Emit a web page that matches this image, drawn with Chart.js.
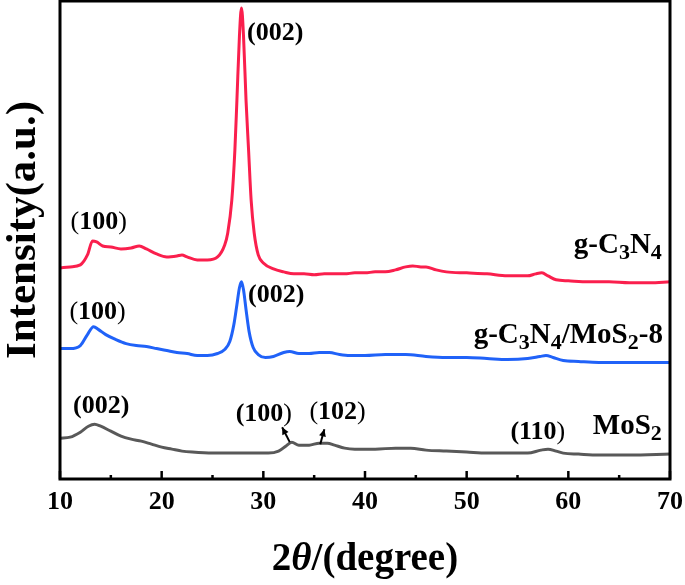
<!DOCTYPE html>
<html>
<head>
<meta charset="utf-8">
<script src="https://cdn.jsdelivr.net/npm/chart.js@4.4.1/dist/chart.umd.min.js"></script>
<style>
  html, body { margin: 0; padding: 0; background: #fff; }
  #wrap { width: 685px; height: 585px; }
</style>
</head>
<body>
<div id="wrap"><canvas id="xrd"></canvas></div>
<script>
// 2-theta positions (degree) and intensities (a.u., stacked offsets included)
const gcnX = [10, 11, 12, 12.7, 13.2, 13.6, 14.2, 15, 16, 17, 17.8, 18.5, 19.5, 20.5, 21.5, 22, 22.5, 23.5, 24.5, 25.5,
  26.2, 26.5, 26.9, 27.2, 27.4, 27.65, 27.85, 28.05, 28.3, 28.55, 28.8, 29.1, 29.5, 30, 31, 32, 33, 34, 35, 36, 37, 38,
  39, 40, 41, 42, 43, 44, 44.7, 45.5, 46, 47, 48, 50, 52, 54, 56, 56.8, 57.4, 58, 58.8, 60, 62, 64, 66, 68, 70];
const gcnY = [212, 213, 215, 225, 239, 238, 234, 233, 231, 232, 234, 231, 226, 223, 224, 225, 223, 220, 220, 223,
  235, 247, 280, 330, 380, 445, 473, 445, 380, 330, 280, 247, 225, 217, 211, 208, 206, 206, 205, 206, 206, 206,
  207, 207, 208, 208, 210, 213, 214, 213, 213, 210, 208, 207, 206, 204, 204, 206, 207, 204, 200, 199, 198, 198, 197, 197, 198];

const compX = [10, 11, 12, 12.7, 13.3, 13.8, 14.5, 15.5, 16.5, 17.5, 18.5, 19.5, 20.5, 21.5, 22.5, 23.5, 24.5, 25.5,
  26.2, 26.7, 27.1, 27.4, 27.65, 27.85, 28.05, 28.3, 28.6, 29, 29.5, 30.2, 31, 32, 32.6, 33.5, 34.5, 35.5, 36.5, 37.5,
  38.5, 40, 42, 44, 46, 48, 50, 52, 54, 56, 57.2, 57.8, 58.5, 59.5, 61, 63, 66, 70];
const compY = [131, 131, 134, 145, 153, 150, 145, 140, 136, 134, 133, 131, 129, 127, 126, 124, 124, 126,
  130, 138, 155, 175, 192, 198, 190, 170, 148, 132, 125, 122, 123, 127, 128, 126, 126, 127, 127, 125,
  124, 124, 125, 125, 123, 122, 122, 121, 120, 121, 123, 124, 122, 119, 118, 117, 117, 117];

const mosX = [10, 11, 12, 12.8, 13.4, 14, 15, 16, 17, 18, 19, 20, 21, 22, 23, 25, 27, 29, 30.5, 31.5, 32.2, 32.8,
  33.5, 34.5, 35.5, 36.3, 37, 38, 39, 41, 43, 44.5, 46, 48, 50, 52, 54, 56, 57.3, 58, 58.8, 59.5, 61, 63, 66, 70];
const mosY = [41, 42, 47, 53, 55, 53, 48, 43, 40, 38, 35, 32, 30, 28, 27, 26, 26, 26, 26, 28, 33, 37,
  34, 34, 36, 36, 34, 31, 30, 30, 31, 31, 29, 28, 27, 26, 26, 26, 29, 30, 28, 26, 25, 24, 24, 25];

const xTicks = [10, 20, 30, 40, 50, 60, 70];
const seriesColors = ['#fa1f4d', '#2062f8', '#595959'];

const toPoints = (xs, ys) => xs.map((x, i) => ({ x: x, y: ys[i] }));

const serif = '"Liberation Serif", "Times New Roman", serif';
const B = n => `bold ${n}px ${serif}`;
const R = n => `${n}px ${serif}`;

// draws a run of text pieces with their own fonts / offsets (subscripts etc.)
function drawRich(ctx, segs, x, y, align) {
    let total = 0;
    segs.forEach(s => { ctx.font = s.f; s.w = ctx.measureText(s.t).width; total += s.w; });
    let cx = align === 'right' ? x - total : align === 'center' ? x - total / 2 : x;
    ctx.textAlign = 'left';
    ctx.textBaseline = 'alphabetic';
    segs.forEach(s => { ctx.font = s.f; ctx.fillText(s.t, cx, y + (s.dy || 0)); cx += s.w; });
}

function hkl(txt, thinLeft, thinRight) {
    return [
        { t: '(', f: thinLeft ? R(26) : B(26) },
        { t: txt, f: B(26) },
        { t: ')', f: thinRight ? R(26) : B(26) }
    ];
}

function arrow(ctx, x1, y1, x2, y2) {
    const a = Math.atan2(y2 - y1, x2 - x1);
    ctx.beginPath();
    ctx.moveTo(x1, y1);
    ctx.lineTo(x2, y2);
    ctx.stroke();
    ctx.beginPath();
    ctx.moveTo(x2, y2);
    ctx.lineTo(x2 - 8 * Math.cos(a - 0.45), y2 - 8 * Math.sin(a - 0.45));
    ctx.lineTo(x2 - 8 * Math.cos(a + 0.45), y2 - 8 * Math.sin(a + 0.45));
    ctx.closePath();
    ctx.fill();
}

const decor = {
    id: 'decor',
    afterDraw(chart) {
        const ctx = chart.ctx;
        const a = chart.chartArea;
        const xs = chart.scales.x;
        const ys = chart.scales.y;
        const px = v => xs.getPixelForValue(v);
        const py = v => ys.getPixelForValue(v);

        ctx.save();
        ctx.strokeStyle = '#000';
        ctx.fillStyle = '#000';

        // frame
        ctx.lineWidth = 3;
        ctx.strokeRect(a.left, a.top, a.right - a.left, a.bottom - a.top);

        // inward ticks on the bottom axis
        ctx.lineWidth = 2.5;
        for (let v = 10; v <= 70; v += 5) {
            const len = v % 10 === 0 ? 8 : 4;
            ctx.beginPath();
            ctx.moveTo(px(v), a.bottom);
            ctx.lineTo(px(v), a.bottom - len);
            ctx.stroke();
        }

        // axis titles
        drawRich(ctx, [
            { t: '2', f: B(39) },
            { t: 'θ', f: 'italic ' + B(39) },
            { t: '/(degree)', f: B(39) }
        ], (a.left + a.right) / 2, 570, 'center');

        ctx.save();
        ctx.translate(35, 230);
        ctx.rotate(-Math.PI / 2);
        ctx.font = B(43);
        ctx.textAlign = 'center';
        ctx.textBaseline = 'alphabetic';
        ctx.fillText('Intensity(a.u.)', 0, 0);
        ctx.restore();

        // peak labels
        drawRich(ctx, hkl('100', true, true), px(13.8), py(251), 'center');
        drawRich(ctx, hkl('002'), px(28.4), py(441), 'left');
        drawRich(ctx, hkl('100', true, true), px(13.7), py(161), 'center');
        drawRich(ctx, hkl('002'), px(28.5), py(178), 'left');
        drawRich(ctx, hkl('002'), px(14.05), py(66), 'center');
        drawRich(ctx, hkl('100', false, true), px(30.05), py(58), 'center');
        drawRich(ctx, hkl('102', true, true), px(37.3), py(60), 'center');
        drawRich(ctx, hkl('110', false, true), px(57.0), py(40), 'center');

        // sample names
        const sub = { f: B(22), dy: 6 };
        drawRich(ctx, [
            { t: 'g-C', f: B(29) }, { t: '3', ...sub }, { t: 'N', f: B(29) }, { t: '4', ...sub }
        ], px(69.2), py(227), 'right');
        drawRich(ctx, [
            { t: 'g-C', f: B(29) }, { t: '3', ...sub }, { t: 'N', f: B(29) }, { t: '4', ...sub },
            { t: '/MoS', f: B(29) }, { t: '2', ...sub }, { t: '-8', f: B(29) }
        ], px(69.3), py(137), 'right');
        drawRich(ctx, [
            { t: 'MoS', f: B(29) }, { t: '2', ...sub }
        ], px(69.2), py(45), 'right');

        // arrows to the weak MoS2 reflections
        ctx.lineWidth = 2;
        arrow(ctx, px(32.6), py(37), px(31.85), py(52));
        arrow(ctx, px(35.6), py(35), px(36.0), py(50));

        ctx.restore();
    }
};

new Chart(document.getElementById('xrd'), {
    type: 'line',
    data: {
        datasets: [
            { label: 'g-C3N4', data: toPoints(gcnX, gcnY) },
            { label: 'g-C3N4/MoS2-8', data: toPoints(compX, compY) },
            { label: 'MoS2', data: toPoints(mosX, mosY) }
        ].map((d, i) => Object.assign(d, {
            borderColor: seriesColors[i],
            borderWidth: 3,
            pointRadius: 0,
            cubicInterpolationMode: 'monotone',
            fill: false
        }))
    },
    options: {
        responsive: true,
        maintainAspectRatio: false,
        animation: false,
        layout: { padding: { left: 60, right: 15, top: 1, bottom: 0 } },
        plugins: { legend: { display: false }, tooltip: { enabled: false } },
        scales: {
            x: {
                type: 'linear',
                min: 10,
                max: 70,
                afterBuildTicks: s => { s.ticks = xTicks.map(v => ({ value: v })); },
                afterFit: s => {
                    s.height = 106;
                    // keep the plot box where the figure has it, labels may hang over
                    s.paddingLeft = 0;
                    s.paddingRight = 0;
                },
                grid: { display: false, drawTicks: false },
                border: { display: false },
                ticks: { color: '#000', font: { family: serif, size: 26, weight: 'bold' }, padding: 8, maxRotation: 0 }
            },
            y: {
                type: 'linear',
                min: 0,
                max: 480,
                display: false
            }
        }
    },
    plugins: [decor]
});
</script>
</body>
</html>
